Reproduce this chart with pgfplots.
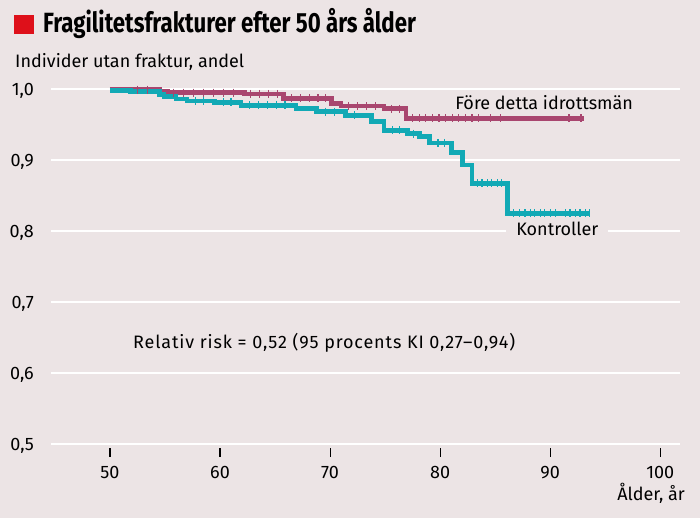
\documentclass[border=0pt]{standalone}
\usepackage{fontspec}
\setmainfont{Fira Sans}
\newfontfamily\titlefont[FakeStretch=0.8]{Fira Sans}
\newfontfamily\widefont[LetterSpace=4.8]{Fira Sans}
\usepackage{pgfplots}
\pgfplotsset{compat=1.18}

\definecolor{bg}{RGB}{236,228,229}
\definecolor{idrott}{RGB}{169,70,111}
\definecolor{kontroll}{RGB}{18,169,181}
\definecolor{titlered}{RGB}{222,16,26}

\newcommand{\txt}{\fontsize{18}{21}\selectfont}

\begin{document}
\begin{tikzpicture}[x=1pt,y=1pt]
\fill[bg] (0,0) rectangle (700,518);
\fill[titlered] (14,484) rectangle (34,503);
\node[anchor=base west, inner sep=0pt] at (43,485)
  {\titlefont\fontsize{27.8}{31}\selectfont\bfseries Fragilitetsfrakturer efter 50 års ålder};
\node[anchor=base west, inner sep=0pt] at (15,450) {\txt Individer utan fraktur, andel};
\node[anchor=base east, inner sep=0pt] at (685,17) {\txt Ålder, år};

\begin{axis}[
    at={(51pt,74pt)}, anchor=south west,
    scale only axis,
    width=629pt, height=355pt,
    xmin=44.64, xmax=101.8,
    ymin=0.5, ymax=1.0,
    clip=false,
    axis line style={draw=none},
    xtick={50,60,...,100},
    ytick={0.5,0.6,...,1.0},
    tick align=outside,
    tick pos=left,
    major tick length=9pt,
    xtick style={draw=black, line width=1.1pt, yshift=-4pt},
    ytick style={draw=none},
    ymajorgrids,
    grid style={white, line width=2pt},
    /pgf/number format/assume math mode=true,
    xticklabel style={font=\txt, anchor=base, inner sep=0pt, yshift=-26pt},
    yticklabel style={font=\txt, anchor=base east, inner sep=0pt, xshift=-8pt, yshift=-7pt,
        /pgf/number format/.cd, fixed, fixed zerofill, precision=1, use comma},
]
% Före detta idrottsmän
\addplot[const plot, idrott, line width=4.8pt] coordinates {
(50,1.000) (51.9,0.999) (54.5,0.997) (55.2,0.995) (62.2,0.993) (65.8,0.987)
(70.1,0.980) (71.0,0.976) (74.9,0.972) (76.9,0.959) (93.1,0.959)
};
% Kontroller
\addplot[const plot, kontroll, line width=4.8pt] coordinates {
(50,0.998) (51.9,0.996) (54.5,0.992) (54.9,0.989) (56.0,0.986) (57.0,0.983)
(59.5,0.981) (61.9,0.977) (66.9,0.973) (68.8,0.968) (71.4,0.963) (73.8,0.954)
(74.9,0.942) (77.0,0.937) (78.1,0.933) (79.0,0.924) (81.0,0.910) (82.0,0.893)
(82.9,0.867) (86.1,0.825) (93.6,0.825)
};
% censoring marks
\addplot[only marks, mark=|, mark size=4pt, idrott, mark options={line width=1.3pt}] coordinates {
(52.5,0.999) (53.4,0.999) (55.8,0.995) (56.7,0.995) (57.6,0.995) (58.5,0.995) (59.4,0.995)
(60.3,0.995) (61.2,0.995) (62.8,0.993) (63.6,0.993) (64.4,0.993) (65.2,0.993)
(66.5,0.987) (67.3,0.987) (68.1,0.987) (68.9,0.987) (69.6,0.987)
(71.7,0.976) (72.5,0.976) (73.3,0.976) (74.1,0.976) (75.6,0.972) (76.3,0.972)
(77.5,0.959) (78.1,0.959) (78.7,0.959) (79.3,0.959) (79.9,0.959) (80.5,0.959)
(81.1,0.959) (81.7,0.959) (82.3,0.959) (82.9,0.959) (83.5,0.959) (84.6,0.959)
(85.5,0.959) (91.7,0.959) (92.8,0.959)
};
\addplot[only marks, mark=|, mark size=4pt, kontroll, mark options={line width=1.3pt}] coordinates {
(57.8,0.983) (58.5,0.983) (60.3,0.981) (61.0,0.981) (62.7,0.977) (63.5,0.977)
(64.3,0.977) (65.1,0.977) (65.9,0.977) (69.6,0.968) (70.4,0.968) (72.2,0.963)
(75.7,0.942) (76.3,0.942) (77.6,0.937) (79.8,0.924) (80.4,0.924)
(83.4,0.867) (83.8,0.867) (84.3,0.867) (84.7,0.867) (85.2,0.867) (85.6,0.867)
(86.7,0.825) (87.2,0.825) (87.7,0.825) (88.2,0.825) (88.6,0.825) (89.1,0.825)
(89.5,0.825) (90.0,0.825) (90.5,0.825) (91.4,0.825) (91.8,0.825) (92.3,0.825)
(92.7,0.825) (93.2,0.825) (93.6,0.825)
};
\node[anchor=base west, inner sep=0pt] at (axis cs:81.36,0.9718) {\txt Före detta idrottsmän};
\node[anchor=base west, fill=bg, inner xsep=10pt, inner ysep=4pt] at (axis cs:86.0,0.793) {\txt Kontroller};
\node[anchor=base west, inner sep=0pt] at (axis cs:52.09,0.634) {\widefont\txt Relativ risk = 0,52 (95 procents KI 0,27–0,94)};
\end{axis}
\end{tikzpicture}
\end{document}
